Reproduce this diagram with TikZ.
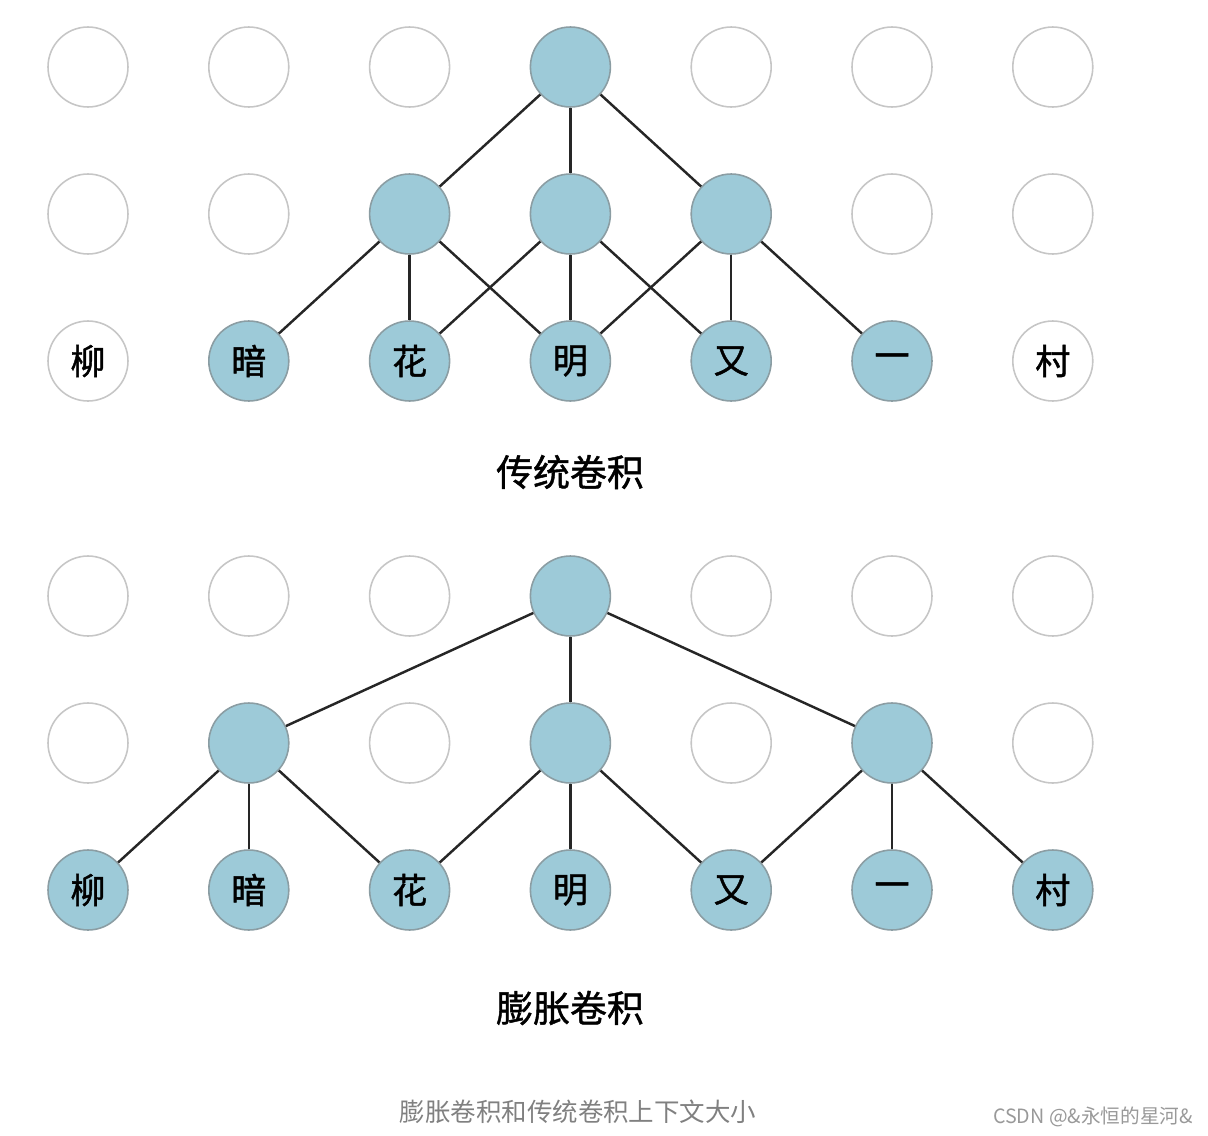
\documentclass[tikz,border=0pt]{standalone}
\usepackage{fontspec}
\newfontfamily\cjk{Noto Sans CJK SC}
\newfontfamily\cjkmid[FakeBold=1.2]{Noto Sans CJK SC}
\definecolor{cellblue}{RGB}{157,202,216}
\tikzset{
  cell/.style={circle,draw=gray!45,line width=0.9pt,minimum size=1.6cm,inner sep=0pt,
    font=\cjkmid\fontsize{20}{20}\selectfont},
  used/.style={cell,fill=cellblue,draw=gray!60!cellblue},
  link/.style={line width=1.4pt,black!85},
  title/.style={font=\cjkmid\fontsize{21}{21}\selectfont}
}

\begin{document}
\begin{tikzpicture}[x=0.02cm,y=-0.02cm]
  \useasboundingbox (0,0) rectangle (1208,1136);
  % 传统卷积
  \foreach \c/\s in {1/cell,2/cell,3/cell,4/used,5/cell,6/cell,7/cell}
    \node[\s] (t1\c) at ({88+160.8*(\c-1)},67) {};
  \foreach \c/\s in {1/cell,2/cell,3/used,4/used,5/used,6/cell,7/cell}
    \node[\s] (t2\c) at ({88+160.8*(\c-1)},214) {};
  \foreach \c/\s/\w in {1/cell/柳,2/used/暗,3/used/花,4/used/明,5/used/又,6/used/一,7/cell/村}
    \node[\s] (t3\c) at ({88+160.8*(\c-1)},361) {\w};
  \foreach \a/\b in {t14/t23,t14/t24,t14/t25,t23/t32,t23/t33,t23/t34,
                     t24/t33,t24/t34,t24/t35,t25/t34,t25/t35,t25/t36}
    \draw[link] (\a) -- (\b);
  \node[title] (tname) at (570,472) {传统卷积};
  % 膨胀卷积
  \foreach \c/\s in {1/cell,2/cell,3/cell,4/used,5/cell,6/cell,7/cell}
    \node[\s] (b1\c) at ({88+160.8*(\c-1)},596) {};
  \foreach \c/\s in {1/cell,2/used,3/cell,4/used,5/cell,6/used,7/cell}
    \node[\s] (b2\c) at ({88+160.8*(\c-1)},743) {};
  \foreach \c/\w in {1/柳,2/暗,3/花,4/明,5/又,6/一,7/村}
    \node[used] (b3\c) at ({88+160.8*(\c-1)},890) {\w};
  \foreach \a/\b in {b14/b22,b14/b24,b14/b26,b22/b31,b22/b32,b22/b33,
                     b24/b33,b24/b34,b24/b35,b26/b35,b26/b36,b26/b37}
    \draw[link] (\a) -- (\b);
  \node[title] (bname) at (570,1008) {膨胀卷积};
  % caption
  \node[font=\cjk\fontsize{14.5}{15}\selectfont,text=gray] (cap) at (578,1112) {膨胀卷积和传统卷积上下文大小};
  \node[font=\cjk\fontsize{11.2}{11}\selectfont,text=gray!80] (mark) at (1093,1117) {CSDN @\&永恒的星河\&};
\end{tikzpicture}
\end{document}
